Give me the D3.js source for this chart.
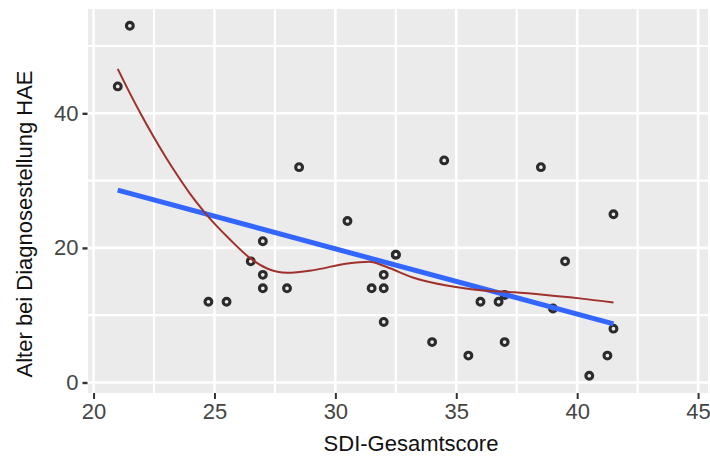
<!DOCTYPE html>
<html>
<head>
<meta charset="utf-8">
<script src="https://cdn.jsdelivr.net/npm/d3@7"></script>
<style>
  html, body { margin: 0; padding: 0; background: #ffffff; }
  svg { display: block; }
  text { font-family: "Liberation Sans", Arial, sans-serif; }
</style>
</head>
<body>
<svg id="chart" width="710" height="457"></svg>
<script>
// SDI total score vs. age at HAE diagnosis
const sdiScore = [21.5, 21, 28.5, 34.5, 38.5, 30.5, 27, 26.5, 27, 27, 28, 24.75, 25.5,
                  32.5, 32.5, 32, 31.5, 32, 32, 41.5, 39.5, 36, 36.75, 37, 39, 41.5,
                  34, 37, 35.5, 41.25, 40.5];
const ageAtDiagnosis = [53, 44, 32, 33, 32, 24, 21, 18, 16, 14, 14, 12, 12,
                        19, 19, 16, 14, 14, 9, 25, 18, 12, 12, 13, 11, 8,
                        6, 6, 4, 4, 1];

// Local smoother (loess) fitted values
const smoothX = [21.0, 21.5, 22.0, 22.5, 23.0, 23.5, 24.0, 24.5, 25.0, 25.6, 26.5, 27.2,
                 28.0, 29.1, 30.5, 31.4, 32.1, 33.2, 34.6, 36.0, 37.4, 38.7, 40.1, 41.5];
const smoothY = [46.6, 43.0, 39.6, 36.4, 33.4, 30.6, 28.0, 25.7, 23.6, 21.4, 18.4, 16.9,
                 16.3, 16.7, 17.7, 17.95, 17.2, 15.6, 14.4, 13.7, 13.4, 13.0, 12.5, 11.9];

const xTicks = [20, 25, 30, 35, 40, 45];
const xMinor = [22.5, 27.5, 32.5, 37.5, 42.5];
const yTicks = [0, 20, 40];
const yMinor = [10, 30, 50];
const xTitle = "SDI-Gesamtscore";
const yTitle = "Alter bei Diagnosestellung HAE";

const svg = d3.select("#chart");
const panel = { left: 88, right: 708, top: 9, bottom: 393 };

const x = d3.scaleLinear().domain([19.77, 45.41]).range([panel.left, panel.right]);
const y = d3.scaleLinear().domain([-1.56, 55.5]).range([panel.bottom, panel.top]);

// panel background
svg.append("rect")
  .attr("x", panel.left).attr("y", panel.top)
  .attr("width", panel.right - panel.left).attr("height", panel.bottom - panel.top)
  .attr("fill", "#ebebeb");

const grid = svg.append("g").attr("stroke", "#ffffff");
grid.selectAll(".xmin").data(xMinor).join("line")
  .attr("x1", d => x(d)).attr("x2", d => x(d))
  .attr("y1", panel.top).attr("y2", panel.bottom).attr("stroke-width", 2.2);
grid.selectAll(".ymin").data(yMinor).join("line")
  .attr("y1", d => y(d)).attr("y2", d => y(d))
  .attr("x1", panel.left).attr("x2", panel.right).attr("stroke-width", 2.2);
grid.selectAll(".xmaj").data(xTicks).join("line")
  .attr("x1", d => x(d)).attr("x2", d => x(d))
  .attr("y1", panel.top).attr("y2", panel.bottom).attr("stroke-width", 2.6);
grid.selectAll(".ymaj").data(yTicks).join("line")
  .attr("y1", d => y(d)).attr("y2", d => y(d))
  .attr("x1", panel.left).attr("x2", panel.right).attr("stroke-width", 2.6);

// axes
const xAxis = d3.axisBottom(x).tickValues(xTicks).tickSize(6).tickPadding(6).tickFormat(d3.format("d"));
const gx = svg.append("g").attr("transform", `translate(0,${panel.bottom})`).call(xAxis);
gx.select(".domain").remove();
gx.selectAll(".tick line").attr("stroke", "#333").attr("stroke-width", 2);
gx.selectAll(".tick text").attr("fill", "#454545").attr("font-size", 22)
  .attr("font-family", "Liberation Sans, Arial, sans-serif").attr("dy", "0.62em");

const yAxis = d3.axisLeft(y).tickValues(yTicks).tickSize(5).tickPadding(4).tickFormat(d3.format("d"));
const gy = svg.append("g").attr("transform", `translate(${panel.left - 0.5},0)`).call(yAxis);
gy.select(".domain").remove();
gy.selectAll(".tick line").attr("stroke", "#333").attr("stroke-width", 2.4);
gy.selectAll(".tick text").attr("fill", "#454545").attr("font-size", 22)
  .attr("font-family", "Liberation Sans, Arial, sans-serif");

// points
const pts = d3.zip(sdiScore, ageAtDiagnosis);
svg.append("g").selectAll("circle").data(pts).join("circle")
  .attr("cx", d => x(d[0])).attr("cy", d => y(d[1]))
  .attr("r", 3.4).attr("fill", "none")
  .attr("stroke", "#2b2b2b").attr("stroke-width", 3.1);

// least-squares line
const mx = d3.mean(sdiScore), my = d3.mean(ageAtDiagnosis);
const sxy = d3.sum(pts, d => (d[0] - mx) * (d[1] - my));
const sxx = d3.sum(pts, d => (d[0] - mx) ** 2);
const slope = sxy / sxx, intercept = my - slope * mx;
const [x0, x1] = d3.extent(sdiScore);
svg.append("line")
  .attr("x1", x(x0)).attr("y1", y(intercept + slope * x0))
  .attr("x2", x(x1)).attr("y2", y(intercept + slope * x1))
  .attr("stroke", "#3366ff").attr("stroke-width", 5);

// smoother curve
const smoothLine = d3.line().x(d => x(d[0])).y(d => y(d[1])).curve(d3.curveMonotoneX);
svg.append("path")
  .datum(d3.zip(smoothX, smoothY))
  .attr("d", smoothLine)
  .attr("fill", "none").attr("stroke", "#a0302c").attr("stroke-width", 2);

// axis titles
svg.append("text")
  .attr("x", 411).attr("y", 451)
  .attr("text-anchor", "middle").attr("font-size", 22).attr("fill", "#111")
  .text(xTitle);
svg.append("text")
  .attr("transform", "translate(32,224) rotate(-90)")
  .attr("text-anchor", "middle").attr("font-size", 22).attr("fill", "#111")
  .text(yTitle);
</script>
</body>
</html>
